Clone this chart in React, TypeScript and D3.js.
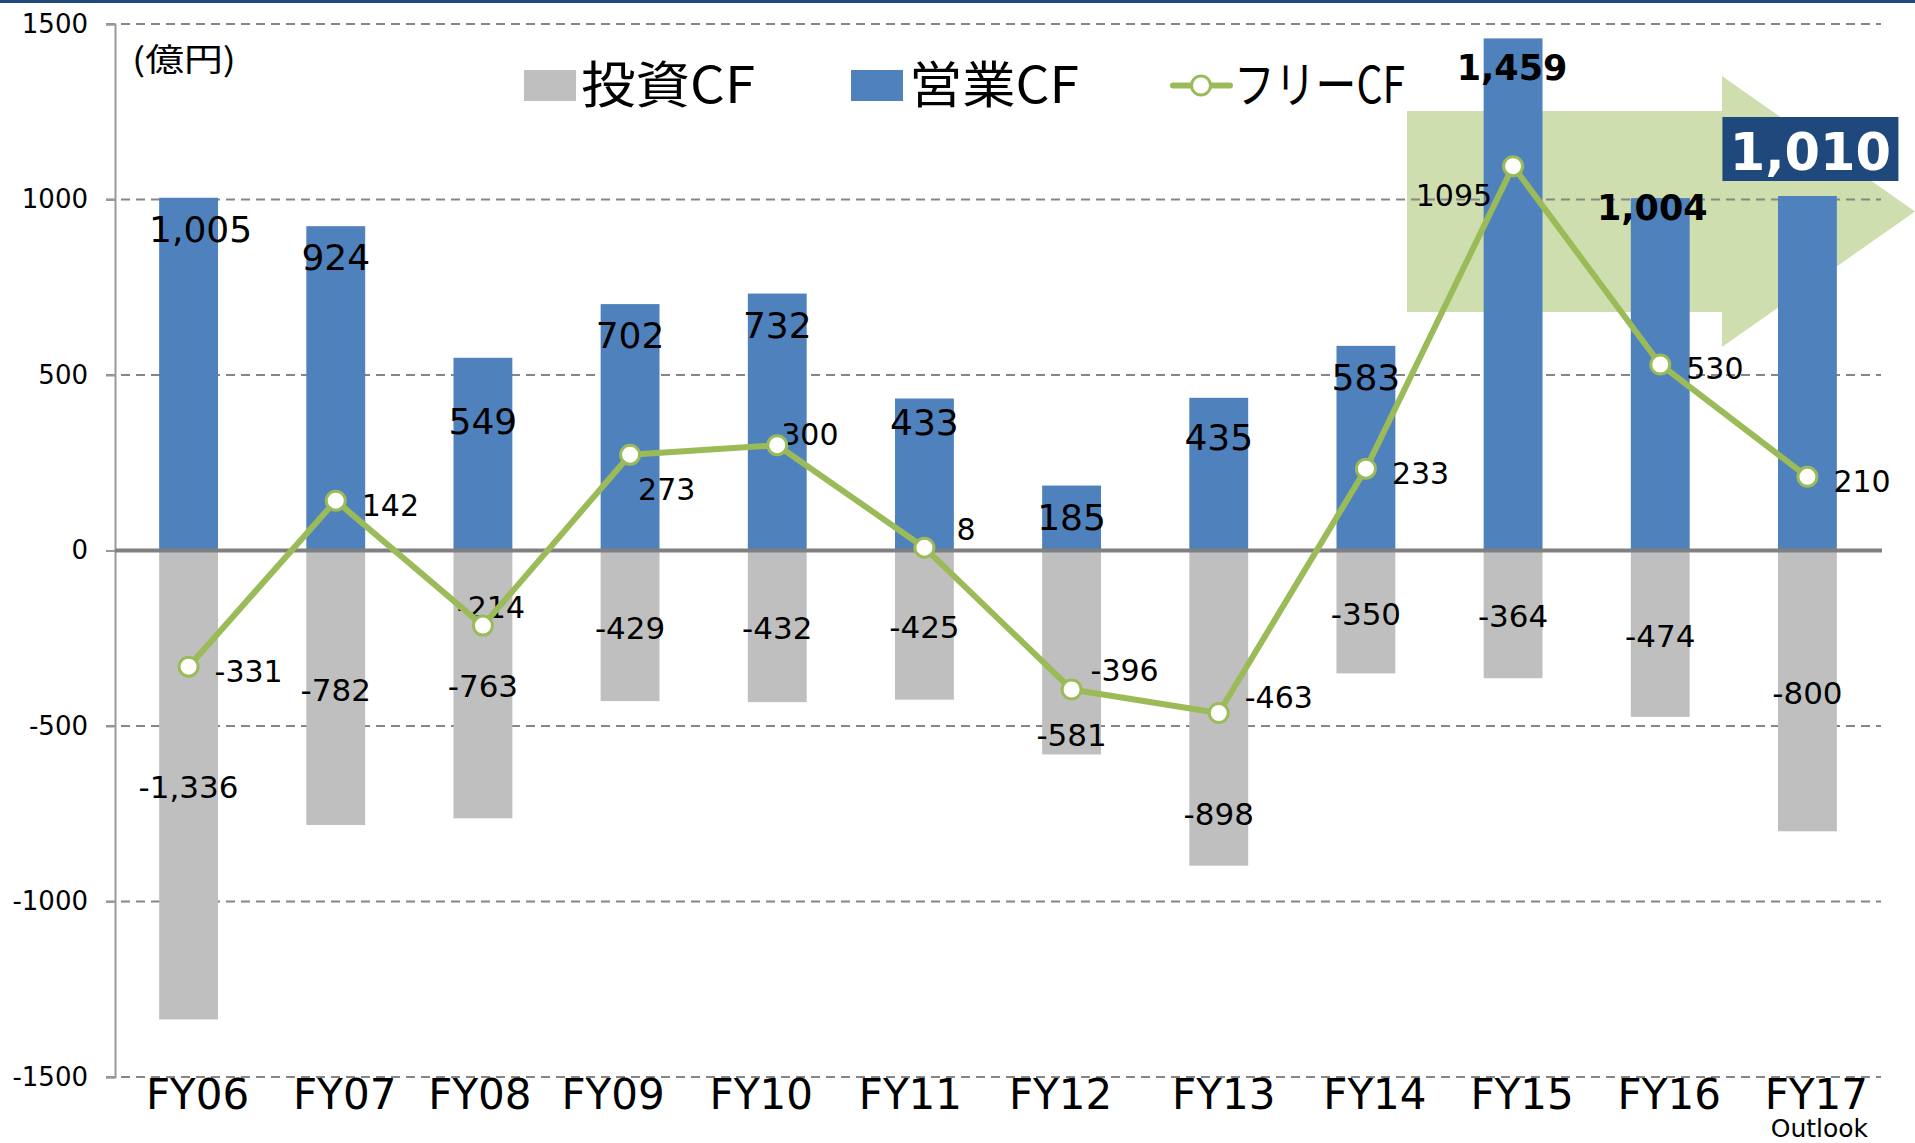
import React, { useRef, useEffect } from "react"
import * as d3 from "d3"

// fiscal years and cash flow values (億円)
const categories = ["FY06", "FY07", "FY08", "FY09", "FY10", "FY11", "FY12", "FY13", "FY14", "FY15", "FY16", "FY17"]
const operatingCF = [1005, 924, 549, 702, 732, 433, 185, 435, 583, 1459, 1004, 1010]
const investingCF = [-1336, -782, -763, -429, -432, -425, -581, -898, -350, -364, -474, -800]
const freeCF = [-331, 142, -214, 273, 300, 8, -396, -463, 233, 1095, 530, 210]
const yTicks = [-1500, -1000, -500, 0, 500, 1000, 1500]
const legendLabels = ["投資CF", "営業CF", "フリーCF"]
const unitLabel = "(億円)"
const outlookLabel = "Outlook"
const boldYears = ["FY15", "FY16"]
const boxedYear = "FY17"

// label nudges, in pixels
const xLabelNudge = { FY08: -12, FY09: -26, FY10: -25, FY11: -23, FY12: -20, FY13: -4 }
const opLabelNudge = { FY06: { dx: 12 }, FY08: { dy: 32 }, FY11: { dy: -8 }, FY13: { dy: 8 }, FY15: { dx: -1, dy: -2 }, FY16: { dx: -8, dy: -22 } }
const invLabelNudge = { FY12: 81, FY13: 104 }
const fcfLabelPos = {
    FY08: { dx: -26, dy: -8 },
    FY09: { dx: 8, dy: 45 },
    FY10: { dx: 4, dy: 0 },
    FY11: { dx: 32, dy: -8 },
    FY12: { dx: 19, dy: -8 },
    FY13: { dx: 26, dy: -5 },
    FY15: { dx: -21, dy: 40, anchor: "end" },
}

const W = 1915, H = 1143
const NUM_FONT = "'DejaVu Sans', Verdana, sans-serif"
const JP_FONT = "'Noto Sans CJK JP', sans-serif"
const BLUE = "#4F81BD", GRAY = "#BFBFBF", GREEN = "#9BBB59", NAVY = "#1F497D"

const CashFlowChart = () => {
    const ref = useRef<SVGSVGElement>(null)

    useEffect(() => {
        const svg = d3.select(ref.current)
        svg.selectAll("*").remove()

        const x = d3.scaleBand()
            .domain(categories)
            .range([115, 1881])
            .paddingInner(0.6)
            .paddingOuter(0.3)
        const y = d3.scaleLinear().domain([-1500, 1500]).range([1077, 24])
        const cx = (c: string) => (x(c) as number) + x.bandwidth() / 2

        svg.append("rect").attr("x", 0).attr("y", 0).attr("width", W).attr("height", H).attr("fill", "#fff")
        svg.append("rect").attr("x", 0).attr("y", 0).attr("width", W).attr("height", 3).attr("fill", NAVY)

        // growth arrow behind everything
        svg.append("path")
            .attr("d", "M1407,111 L1722,111 L1722,76 L1915,211.5 L1722,347 L1722,312 L1407,312 Z")
            .attr("fill", "#CFDEAF")

        // gridlines
        svg.append("g")
            .selectAll("line")
            .data(yTicks.filter(t => t !== 0))
            .enter()
            .append("line")
            .attr("x1", 106).attr("x2", 1881)
            .attr("y1", d => y(d)).attr("y2", d => y(d))
            .attr("stroke", "#868686")
            .attr("stroke-width", 2)
            .attr("stroke-dasharray", "9,6")

        // y axis
        const yAxis = svg.append("g")
            .attr("transform", "translate(115,0)")
            .call(d3.axisLeft(y).tickValues(yTicks).tickSize(9).tickPadding(18).tickFormat(d => String(d)))
        yAxis.select(".domain").attr("stroke", "#999").attr("stroke-width", 2)
        yAxis.selectAll(".tick line").attr("stroke", "#999").attr("stroke-width", 2)
        yAxis.selectAll(".tick text")
            .attr("font-family", NUM_FONT)
            .attr("font-size", 26)
            .attr("fill", "#000")

        // bars
        svg.append("g")
            .selectAll("rect")
            .data(investingCF)
            .enter()
            .append("rect")
            .attr("x", (d, i) => x(categories[i]) as number)
            .attr("y", y(0))
            .attr("width", x.bandwidth())
            .attr("height", d => y(d) - y(0))
            .attr("fill", GRAY)

        svg.append("g")
            .selectAll("rect")
            .data(operatingCF)
            .enter()
            .append("rect")
            .attr("x", (d, i) => x(categories[i]) as number)
            .attr("y", d => y(d))
            .attr("width", x.bandwidth())
            .attr("height", d => y(0) - y(d))
            .attr("fill", BLUE)

        // zero line
        svg.append("line")
            .attr("x1", 115).attr("x2", 1882)
            .attr("y1", y(0)).attr("y2", y(0))
            .attr("stroke", "#808080")
            .attr("stroke-width", 4)

        // x labels
        svg.append("g")
            .selectAll("text")
            .data(categories)
            .enter()
            .append("text")
            .attr("x", d => cx(d) + 9 + (xLabelNudge[d] || 0))
            .attr("y", 1109)
            .attr("text-anchor", "middle")
            .attr("font-family", NUM_FONT)
            .attr("font-size", 42)
            .text(d => d)

        svg.append("text")
            .attr("x", cx(boxedYear) + 12)
            .attr("y", 1137)
            .attr("text-anchor", "middle")
            .attr("font-family", NUM_FONT)
            .attr("font-size", 25)
            .text(outlookLabel)

        const fmt = (v: number) => d3.format(",")(v).replace("−", "-")

        // investing labels, centred in the bar
        svg.append("g")
            .selectAll("text")
            .data(investingCF)
            .enter()
            .append("text")
            .attr("x", (d, i) => cx(categories[i]))
            .attr("y", (d, i) => (y(0) + y(d)) / 2 + 13 + (invLabelNudge[categories[i]] || 0))
            .attr("text-anchor", "middle")
            .attr("font-family", NUM_FONT)
            .attr("font-size", 31)
            .text(d => fmt(d))

        // operating labels, inside the top
        const opIdx = operatingCF.map((d, i) => i).filter(i => categories[i] !== boxedYear)
        svg.append("g")
            .selectAll("text")
            .data(opIdx)
            .enter()
            .append("text")
            .attr("x", i => cx(categories[i]) + (opLabelNudge[categories[i]]?.dx ?? 0))
            .attr("y", i => y(operatingCF[i]) + 44 + (opLabelNudge[categories[i]]?.dy ?? 0))
            .attr("text-anchor", "middle")
            .attr("font-family", NUM_FONT)
            .attr("font-size", i => boldYears.includes(categories[i]) ? 35 : 36)
            .attr("font-weight", i => boldYears.includes(categories[i]) ? "bold" : "normal")
            .text(i => fmt(operatingCF[i]))

        // free CF labels
        svg.append("g")
            .selectAll("text")
            .data(freeCF)
            .enter()
            .append("text")
            .attr("x", (d, i) => cx(categories[i]) + (fcfLabelPos[categories[i]]?.dx ?? 26))
            .attr("y", (d, i) => y(d) + (fcfLabelPos[categories[i]]?.dy ?? 15))
            .attr("text-anchor", (d, i) => fcfLabelPos[categories[i]]?.anchor ?? "start")
            .attr("font-family", NUM_FONT)
            .attr("font-size", 30)
            .text(d => String(d))

        // free CF line
        const line = d3.line<number>()
            .x((d, i) => cx(categories[i]))
            .y(d => y(d))
        svg.append("path")
            .datum(freeCF)
            .attr("d", line)
            .attr("fill", "none")
            .attr("stroke", GREEN)
            .attr("stroke-width", 6)
            .attr("stroke-linejoin", "round")

        svg.append("g")
            .selectAll("circle")
            .data(freeCF)
            .enter()
            .append("circle")
            .attr("cx", (d, i) => cx(categories[i]))
            .attr("cy", d => y(d))
            .attr("r", 9.5)
            .attr("fill", "#fff")
            .attr("stroke", GREEN)
            .attr("stroke-width", 3)

        // highlighted outlook value
        const bi = categories.indexOf(boxedYear)
        const bx = cx(boxedYear) + 3
        const by = y(operatingCF[bi]) - 15
        svg.append("rect")
            .attr("x", bx - 88).attr("y", by - 64)
            .attr("width", 176).attr("height", 64)
            .attr("fill", NAVY)
        svg.append("text")
            .attr("x", bx).attr("y", by - 11)
            .attr("text-anchor", "middle")
            .attr("font-family", NUM_FONT)
            .attr("font-size", 51)
            .attr("font-weight", "bold")
            .attr("fill", "#fff")
            .text(fmt(operatingCF[bi]))

        // unit
        svg.append("text")
            .attr("x", 132).attr("y", 71)
            .attr("font-family", JP_FONT)
            .attr("font-size", 32)
            .attr("textLength", 104)
            .attr("lengthAdjust", "spacingAndGlyphs")
            .text(unitLabel)

        // legend
        const legend = svg.append("g")
        const legendItems = [
            { label: legendLabels[0], kind: "rect", color: GRAY, mx: 524, tx: 581, tw: 174 },
            { label: legendLabels[1], kind: "rect", color: BLUE, mx: 851, tx: 909, tw: 170 },
            { label: legendLabels[2], kind: "line", color: GREEN, mx: 1173, tx: 1234, tw: 171 },
        ]
        legendItems.forEach(it => {
            if (it.kind === "rect") {
                legend.append("rect")
                    .attr("x", it.mx).attr("y", 70)
                    .attr("width", 52).attr("height", 31)
                    .attr("fill", it.color)
            } else {
                legend.append("line")
                    .attr("x1", it.mx).attr("x2", it.mx + 57)
                    .attr("y1", 85.5).attr("y2", 85.5)
                    .attr("stroke", it.color)
                    .attr("stroke-width", 6)
                    .attr("stroke-linecap", "round")
                legend.append("circle")
                    .attr("cx", it.mx + 28).attr("cy", 85.5)
                    .attr("r", 9.5)
                    .attr("fill", "#fff")
                    .attr("stroke", it.color)
                    .attr("stroke-width", 3)
            }
            legend.append("text")
                .attr("x", it.tx).attr("y", 103)
                .attr("font-family", JP_FONT)
                .attr("font-size", 50)
                .attr("textLength", it.tw)
                .attr("lengthAdjust", "spacingAndGlyphs")
                .text(it.label)
        })
    }, [])

    return (
        <svg ref={ref} width={W} height={H} style={{ position: "absolute", left: 0, top: 0, display: "block" }} />
    )
}

export default function App() {
    return <CashFlowChart />
}
